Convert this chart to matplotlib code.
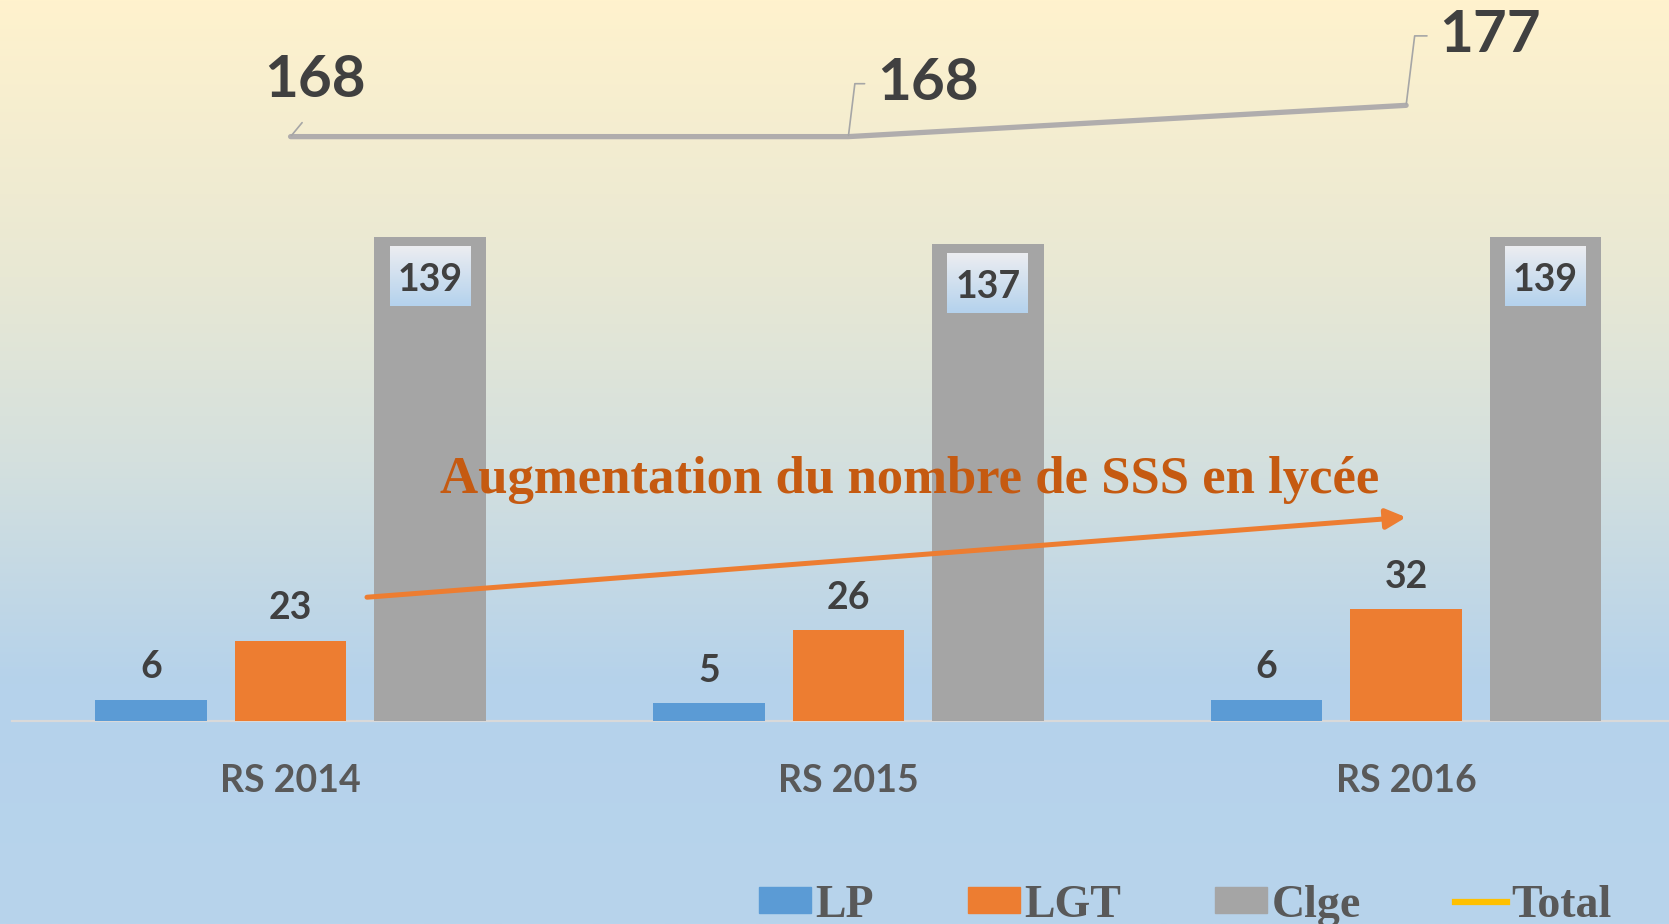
import numpy as np
from matplotlib import pyplot as plt
from matplotlib.patches import Patch
from matplotlib.lines import Line2D

# data
categories = ["RS 2014", "RS 2015", "RS 2016"]
lp = [6, 5, 6]
lgt = [23, 26, 32]
clge = [139, 137, 139]
total = [168, 168, 177]
series_names = ["LP", "LGT", "Clge", "Total"]
title = "Augmentation du nombre de SSS en lycée"

c_lp = "#5B9BD5"
c_lgt = "#ED7D31"
c_clge = "#A5A5A5"
c_total_line = "#B0ADAD"
c_total_leg = "#FFC000"

fig = plt.figure(figsize=(16.69, 9.24), dpi=100)

# background gradient (yellow -> blue)
bg = fig.add_axes([0, 0, 1, 1], zorder=-5)
ys = np.linspace(0, 1, 400)
stops_y = [0.0, 0.30, 0.50, 0.74, 1.0]
stops_c = np.array([[255, 242, 205], [232, 232, 212], [212, 224, 222],
                    [181, 210, 235], [184, 212, 236]]) / 255
grad = np.stack([np.interp(ys, stops_y, stops_c[:, k]) for k in range(3)], axis=-1)
bg.imshow(grad[:, None, :], aspect="auto", extent=[0, 1, 0, 1])
bg.axis("off")

ax = fig.add_axes([0.0070, 0.2201, 1.0026, 0.7799])
ax.set_facecolor("none")
x = np.arange(len(categories))
w = 0.2
off = 0.25

b1 = ax.bar(x - off, lp, w, color=c_lp, zorder=3)
b2 = ax.bar(x, lgt, w, color=c_lgt, zorder=3)
b3 = ax.bar(x + off, clge, w, color=c_clge, zorder=3)

num_font = dict(family="Lato", weight="bold")
ax.bar_label(b1, padding=11, fontsize=27, color="#404040", **num_font)
ax.bar_label(b2, padding=11, fontsize=27, color="#404040", **num_font)

# Clge labels in small gradient boxes at the top of the bars
box_grad = np.stack([np.linspace(a, b, 100) for a, b in
                     zip([236 / 255, 237 / 255, 241 / 255], [180 / 255, 210 / 255, 237 / 255])], axis=-1)
for xi, v in zip(x + off, clge):
    top, bot = v - 2.45, v - 19.7
    ax.imshow(box_grad[:, None, :], aspect="auto", extent=[xi - 0.0726, xi + 0.0726, bot, top],
              zorder=4, origin="upper")
    ax.text(xi, (top + bot) / 2 - 1.2, str(v), ha="center", va="center", fontsize=27,
            color="#404040", zorder=5, **num_font)

# total line with leader-line labels
ax.plot(x, total, color=c_total_line, lw=3.8, solid_capstyle="round", zorder=3)
offsets = [(17.6, 40.4, "center"), (20.7, 38.1, "left"), (24.0, 50.0, "left")]
for xi, v, (dx, dy, ha) in zip(x, total, offsets):
    if ha == "center":
        ap = dict(arrowstyle="-", color="#A6A6A6", lw=1.2, relpos=(0.5, 0),
                  shrinkA=12, shrinkB=1)
    else:
        ap = dict(arrowstyle="-", color="#A6A6A6", lw=1.2, relpos=(0, 0.5),
                  shrinkA=7, shrinkB=1, connectionstyle="angle,angleA=0,angleB=83,rad=0")
    ax.annotate(str(v), xy=(xi, v), xytext=(dx, dy), textcoords="offset points",
                ha=ha, va="center", fontsize=42, color="#404040", arrowprops=ap,
                zorder=5, **num_font)

# trend arrow and caption
ax.annotate("", xy=(2.0, 58.5), xytext=(0.137, 35.5),
            arrowprops=dict(arrowstyle="-|>,head_length=0.6,head_width=0.3", color="#ED7D31",
                            lw=3.6, mutation_scale=20, shrinkA=0, shrinkB=0), zorder=6)
ax.text(1.11, 69.2, title, ha="center", va="center", fontsize=38, color="#C55A11",
        family="Liberation Serif", weight="bold", zorder=6)

ax.set_xlim(-0.5, 2.5)
ax.set_ylim(0, 207.3)
ax.set_yticks([])
ax.set_xticks(x, categories)
ax.tick_params(axis="x", length=0, pad=31, labelsize=27, labelcolor="#595959")
for lab in ax.get_xticklabels():
    lab.set_family("Lato")
    lab.set_weight("bold")
for s in ["top", "right", "left"]:
    ax.spines[s].set_visible(False)
ax.spines["bottom"].set_color("#D9D9D9")
ax.spines["bottom"].set_linewidth(1.6)

handles = [Patch(color=c_lp), Patch(color=c_lgt), Patch(color=c_clge),
           Line2D([0], [0], color=c_total_leg, lw=4.5)]
fig.legend(handles, series_names, loc="center left", bbox_to_anchor=(0.4548, 0.020),
           ncol=4, frameon=False, handlelength=1.13, handleheight=0.48, handletextpad=0.1,
           columnspacing=2.05, borderpad=0, borderaxespad=0,
           prop=dict(family="Liberation Serif", weight="bold", size=33), labelcolor="#595959")

fig.savefig("out.png", dpi=100)
